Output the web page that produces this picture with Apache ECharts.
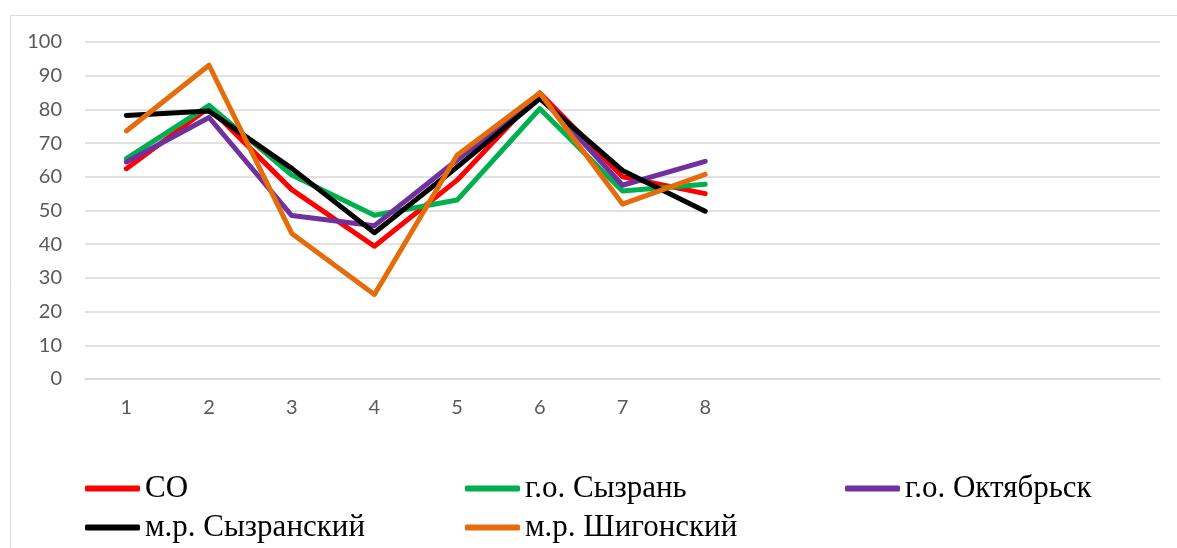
<!DOCTYPE html>
<html>
<head>
<meta charset="utf-8">
<script src="https://cdn.jsdelivr.net/npm/echarts@6/dist/echarts.min.js"></script>
<style>
html,body{margin:0;padding:0;background:#fff;}
#chart{width:1177px;height:548px;}
</style>
</head>
<body>
<div id="chart"></div>
<script>
const categories = ['1','2','3','4','5','6','7','8','','','','',''];
const yTicks = [0,10,20,30,40,50,60,70,80,90,100];
const seriesNames = ['СО','г.о. Сызрань','г.о. Октябрьск','м.р. Сызранский','м.р. Шигонский'];
const soValues = [62.4, 80.6, 56.2, 39.4, 59.0, 84.9, 60.0, 55.0];
const syzranValues = [65.4, 81.2, 60.5, 48.6, 53.1, 80.2, 55.8, 57.8];
const oktyabrskValues = [64.4, 77.6, 48.5, 45.5, 65.0, 84.2, 57.5, 64.6];
const syzranskyValues = [78.2, 79.5, 62.5, 43.4, 62.9, 83.2, 61.9, 49.8];
const shigonskyValues = [73.6, 93.1, 43.2, 25.1, 66.4, 84.9, 51.9, 60.7];
const colors = ['#FF0000','#00B050','#7030A0','#000000','#E46C0A'];
const allValues = [soValues, syzranValues, oktyabrskValues, syzranskyValues, shigonskyValues];

const chart = echarts.init(document.getElementById('chart'));
const legendBase = {
  orient: 'horizontal',
  itemWidth: 55,
  itemHeight: 6,
  icon: 'roundRect',
  textStyle: {fontFamily: 'Liberation Serif', fontSize: 31, color: '#000'},
  selectedMode: false,
  padding: 0
};
const legendPos = [[85, 473], [465, 473], [845, 473], [85, 512], [465, 512]];
chart.setOption({
  animation: false,
  backgroundColor: '#fff',
  graphic: [{
    type: 'rect', left: 8, top: 13, z: -1,
    shape: {width: 1168, height: 545},
    style: {fill: 'none', stroke: '#d9d9d9', lineWidth: 1}
  }],
  grid: {left: 85, right: 17, top: 42, bottom: 169},
  legend: seriesNames.map((n, i) => Object.assign({}, legendBase, {left: legendPos[i][0], top: legendPos[i][1], data: [n]})),
  xAxis: {
    type: 'category',
    data: categories,
    boundaryGap: true,
    axisTick: {show: false},
    axisLine: {lineStyle: {color: '#d9d9d9', width: 1.5}},
    axisLabel: {color: '#595959', fontFamily: 'Lato', fontSize: 20, margin: 19, interval: 0}
  },
  yAxis: {
    type: 'value',
    min: yTicks[0], max: yTicks[yTicks.length-1], interval: 10,
    axisLine: {show: false},
    axisTick: {show: false},
    axisLabel: {color: '#595959', fontFamily: 'Lato', fontSize: 20, margin: 23},
    splitLine: {lineStyle: {color: '#d9d9d9', width: 1.5}}
  },
  series: seriesNames.map((name, i) => ({
    name: name,
    type: 'line',
    data: allValues[i],
    symbol: 'none',
    color: colors[i],
    lineStyle: {width: 5, color: colors[i], cap: 'round', join: 'round'},
    itemStyle: {color: colors[i]}
  }))
});
</script>
</body>
</html>
